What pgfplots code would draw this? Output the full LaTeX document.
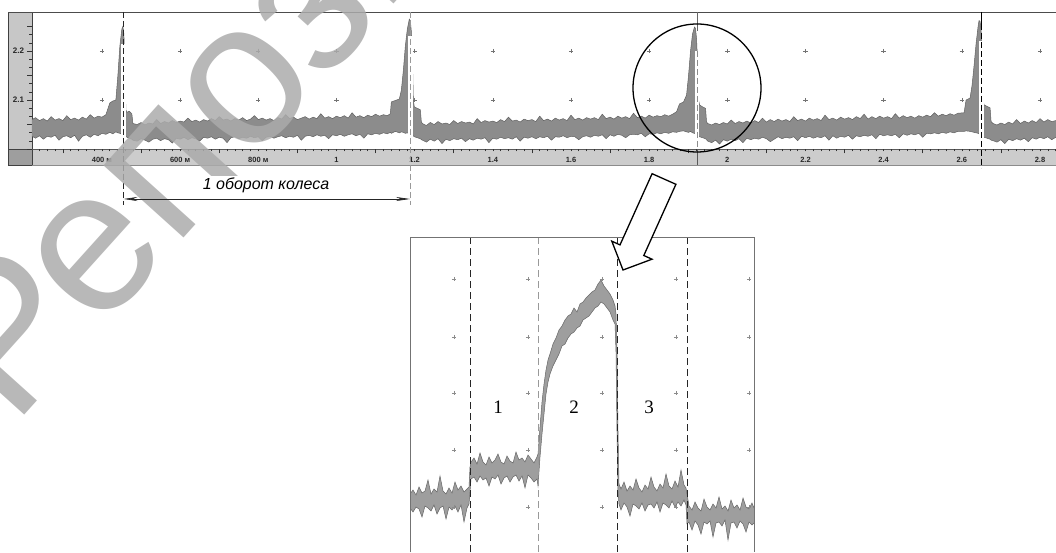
\documentclass[border=0pt]{standalone}
\usepackage{pgfplots}
\pgfplotsset{compat=1.18}
\usetikzlibrary{arrows.meta}
\usepackage{pgfplotstable}
\usepackage{fontspec}
\setmainfont{Liberation Serif}
\newfontfamily\sansf{Liberation Sans}

\pgfplotstableread{
x up lo
0.221 2.060 2.026
0.23 2.064 2.022
0.24 2.058 2.027
0.25 2.062 2.020
0.26 2.057 2.026
0.27 2.066 2.024
0.28 2.059 2.028
0.29 2.062 2.018
0.30 2.058 2.025
0.31 2.068 2.027
0.32 2.060 2.023
0.33 2.063 2.028
0.34 2.059 2.016
0.35 2.065 2.026
0.36 2.061 2.029
0.37 2.070 2.024
0.38 2.063 2.030
0.39 2.067 2.027
0.40 2.065 2.032
0.41 2.070 2.030
0.4202 2.094 2.034
0.4280 2.098 2.031
0.4356 2.100 2.035
0.4407 2.150 2.033
0.4458 2.210 2.032
0.4509 2.245 2.030
0.4535 2.250 2.031
0.4561 2.235 2.029
0.4586 2.170 2.028
0.4612 2.080 2.026
0.4637 2.075 2.024
0.4700 2.077 2.022
0.4765 2.072 2.020
0.4791 2.052 2.018
0.49 2.050 2.016
0.50 2.054 2.021
0.51 2.049 2.018
0.52 2.053 2.014
0.53 2.051 2.020
0.54 2.060 2.022
0.55 2.052 2.017
0.56 2.056 2.021
0.57 2.053 2.019
0.58 2.058 2.012
0.59 2.054 2.022
0.60 2.057 2.020
0.61 2.055 2.024
0.62 2.063 2.019
0.63 2.056 2.023
0.64 2.059 2.021
0.65 2.055 2.016
0.66 2.060 2.024
0.67 2.057 2.022
0.68 2.062 2.025
0.69 2.058 2.020
0.70 2.066 2.024
0.71 2.059 2.022
0.72 2.061 2.013
0.73 2.057 2.023
0.74 2.062 2.025
0.75 2.059 2.021
0.76 2.064 2.024
0.77 2.058 2.022
0.78 2.061 2.026
0.79 2.068 2.023
0.80 2.060 2.025
0.81 2.063 2.017
0.82 2.059 2.024
0.83 2.062 2.026
0.84 2.058 2.022
0.85 2.064 2.025
0.86 2.061 2.027
0.87 2.070 2.023
0.88 2.062 2.026
0.89 2.065 2.024
0.90 2.060 2.028
0.91 2.063 2.018
0.92 2.066 2.026
0.93 2.061 2.028
0.94 2.065 2.025
0.95 2.062 2.029
0.96 2.072 2.026
0.97 2.063 2.028
0.98 2.066 2.021
0.99 2.062 2.029
1.00 2.067 2.027
1.01 2.064 2.030
1.02 2.068 2.026
1.03 2.063 2.029
1.04 2.074 2.031
1.05 2.065 2.027
1.06 2.068 2.030
1.07 2.064 2.022
1.08 2.069 2.031
1.09 2.066 2.029
1.10 2.071 2.032
1.11 2.067 2.030
1.12 2.070 2.033
1.13 2.068 2.031
1.1378 2.072 2.034
1.1404 2.096 2.032
1.1506 2.099 2.036
1.1608 2.102 2.033
1.1660 2.120 2.035
1.1711 2.160 2.034
1.1762 2.210 2.032
1.1813 2.245 2.033
1.1864 2.265 2.031
1.1890 2.262 2.030
1.1916 2.240 2.029
1.1941 2.190 2.028
1.1967 2.100 2.027
1.1992 2.086 2.025
1.2069 2.083 2.023
1.2146 2.080 2.021
1.2172 2.055 2.019
1.22 2.052 2.018
1.23 2.048 2.014
1.24 2.054 2.020
1.25 2.050 2.016
1.26 2.056 2.021
1.27 2.051 2.011
1.28 2.053 2.020
1.29 2.050 2.017
1.30 2.058 2.021
1.31 2.052 2.019
1.32 2.056 2.022
1.33 2.053 2.015
1.34 2.055 2.021
1.35 2.051 2.018
1.36 2.062 2.022
1.37 2.054 2.020
1.38 2.058 2.023
1.39 2.055 2.013
1.40 2.057 2.022
1.41 2.054 2.020
1.42 2.060 2.024
1.43 2.056 2.021
1.44 2.065 2.023
1.45 2.057 2.020
1.46 2.059 2.025
1.47 2.055 2.016
1.48 2.061 2.024
1.49 2.058 2.022
1.50 2.060 2.025
1.51 2.056 2.021
1.52 2.067 2.025
1.53 2.058 2.023
1.54 2.061 2.026
1.55 2.057 2.018
1.56 2.063 2.025
1.57 2.059 2.024
1.58 2.062 2.027
1.59 2.058 2.023
1.60 2.069 2.026
1.61 2.060 2.025
1.62 2.063 2.019
1.63 2.059 2.025
1.64 2.064 2.027
1.65 2.061 2.024
1.66 2.064 2.028
1.67 2.060 2.026
1.68 2.071 2.029
1.69 2.062 2.021
1.70 2.065 2.029
1.71 2.061 2.026
1.72 2.067 2.030
1.73 2.063 2.028
1.74 2.066 2.023
1.75 2.062 2.029
1.76 2.073 2.030
1.77 2.064 2.029
1.78 2.067 2.032
1.79 2.063 2.025
1.80 2.069 2.031
1.81 2.065 2.030
1.82 2.068 2.033
1.83 2.066 2.031
1.84 2.070 2.034
1.85 2.067 2.032
1.86 2.071 2.035
1.8701 2.076 2.034
1.8777 2.092 2.036
1.8880 2.096 2.037
1.8957 2.110 2.035
1.9008 2.150 2.034
1.9059 2.200 2.036
1.9110 2.235 2.033
1.9161 2.249 2.032
1.9187 2.246 2.031
1.9213 2.225 2.030
1.9238 2.180 2.028
1.9264 2.100 2.027
1.9289 2.090 2.025
1.9366 2.086 2.023
1.9443 2.083 2.021
1.9469 2.055 2.019
1.95 2.052 2.016
1.96 2.049 2.013
1.97 2.053 2.018
1.98 2.050 2.010
1.99 2.054 2.019
2.00 2.051 2.016
2.01 2.059 2.020
2.02 2.052 2.017
2.03 2.056 2.021
2.04 2.053 2.013
2.05 2.057 2.022
2.06 2.053 2.019
2.07 2.058 2.022
2.08 2.054 2.020
2.09 2.063 2.024
2.10 2.055 2.021
2.11 2.060 2.015
2.12 2.056 2.020
2.13 2.061 2.025
2.14 2.057 2.021
2.15 2.060 2.024
2.16 2.056 2.022
2.17 2.066 2.025
2.18 2.058 2.017
2.19 2.061 2.026
2.20 2.057 2.023
2.21 2.063 2.026
2.22 2.059 2.022
2.23 2.062 2.025
2.24 2.058 2.023
2.25 2.069 2.027
2.26 2.060 2.018
2.27 2.063 2.027
2.28 2.059 2.022
2.29 2.065 2.026
2.30 2.061 2.024
2.31 2.064 2.028
2.32 2.060 2.020
2.33 2.066 2.027
2.34 2.062 2.025
2.35 2.071 2.028
2.36 2.061 2.026
2.37 2.066 2.029
2.38 2.062 2.021
2.39 2.067 2.030
2.40 2.063 2.027
2.41 2.066 2.029
2.42 2.062 2.027
2.43 2.072 2.030
2.44 2.063 2.023
2.45 2.068 2.031
2.46 2.064 2.028
2.47 2.067 2.031
2.48 2.063 2.029
2.49 2.068 2.032
2.50 2.065 2.024
2.51 2.069 2.032
2.52 2.066 2.031
2.53 2.074 2.033
2.54 2.067 2.031
2.55 2.071 2.034
2.56 2.068 2.032
2.57 2.072 2.035
2.58 2.069 2.033
2.59 2.073 2.036
2.6058 2.074 2.036
2.6109 2.100 2.037
2.6211 2.104 2.036
2.6262 2.130 2.035
2.6313 2.170 2.034
2.6365 2.215 2.033
2.6416 2.250 2.032
2.6441 2.262 2.031
2.6467 2.260 2.030
2.6493 2.245 2.029
2.6518 2.200 2.028
2.6544 2.100 2.026
2.6569 2.090 2.024
2.6646 2.087 2.022
2.6723 2.084 2.020
2.6749 2.056 2.018
2.68 2.052 2.017
2.69 2.049 2.014
2.70 2.053 2.019
2.71 2.050 2.011
2.72 2.055 2.020
2.73 2.051 2.017
2.74 2.060 2.021
2.75 2.052 2.018
2.76 2.057 2.022
2.77 2.053 2.015
2.78 2.058 2.023
2.79 2.054 2.020
2.80 2.062 2.024
2.81 2.055 2.021
2.82 2.060 2.025
2.83 2.056 2.019
2.841 2.058 2.024
}\toptab

\pgfplotstableread{
x up lo
0 58 44
3 62 40
6 57 45
9 65 43
12 59 35
15 61 46
18 72 44
21 58 41
24 63 47
27 60 38
30 76 44
33 61 46
36 58 33
39 64 45
42 59 42
45 70 46
48 62 40
51 66 47
54 60 30
57 63 44
59 65 48
60 85 60
61 90 73
64 94 75
67 88 70
70 99 76
73 90 72
76 87 74
79 95 66
82 89 75
85 92 73
88 98 77
91 90 68
94 88 74
97 96 76
100 91 70
103 89 75
106 100 77
109 92 71
112 94 76
115 90 64
118 97 77
121 93 74
124 89 70
127 95 73
128 98 66
130 125 95
132 150 118
134 168 138
136 182 158
138 192 170
140 198 178
143 208 186
146 214 192
149 222 198
152 226 206
155 232 208
158 236 214
161 238 218
164 244 220
167 240 224
170 248 226
173 250 232
176 254 234
179 257 236
182 260 240
185 262 244
188 268 246
191 272 250
194 266 248
197 262 244
200 258 240
203 252 232
205 246 228
206 238 200
207 200 120
208 120 60
209 68 48
211 63 42
214 70 49
217 61 45
220 66 36
223 62 48
226 73 46
229 64 43
232 60 49
235 67 41
238 63 47
241 75 48
244 65 44
247 61 50
250 68 40
253 64 49
256 78 47
259 66 44
262 63 51
265 71 45
268 65 50
271 82 46
274 67 52
276 64 47
277 58 28
279 46 30
282 42 22
285 50 31
288 44 27
291 41 18
294 53 30
297 45 28
300 42 31
303 48 15
306 44 29
309 55 30
312 43 26
315 46 32
318 41 12
321 52 29
324 44 30
327 47 24
330 42 31
333 54 28
336 45 20
339 43 30
342 49 27
344 44 29
}\bottab

\begin{document}
\begin{tikzpicture}[x=1pt,y=1pt]
\path[use as bounding box] (0,0) rectangle (1056,552);
% left strip and bottom bar of the top panel
\fill[black!22] (8,387) rectangle (32,540);
\fill[black!38] (8,387) rectangle (32,403);
\fill[black!20] (32,387) rectangle (1056,403);
\draw[black!75, line width=0.9pt] (8,387) rectangle (32,540);
\draw[black!75, line width=0.9pt] (8,403) -- (32,403);
\draw[black!65, line width=0.8pt] (32,403) -- (1056,403);
\draw[black!45, line width=0.6pt] (32,387) -- (1056,387);
\draw[black!70, line width=0.8pt] (8,540) -- (1056,540);

\begin{axis}[
  at={(32pt,403pt)}, anchor=south west,
  scale only axis, width=1024pt, height=137pt,
  xmin=0.221, xmax=2.841, ymin=2.0, ymax=2.2796,
  axis line style={draw=none},
  tick align=outside,
  xtick pos=bottom, ytick pos=left,
  xtick={0.3,0.5,0.7,0.9,1.1,1.3,1.5,1.7,1.9,2.1,2.3,2.5,2.7},
  xticklabels={},
  minor xtick={0.22,0.24,...,2.84},
  extra x ticks={0.4,0.6,0.8,1.0,1.2,1.4,1.6,1.8,2.0,2.2,2.4,2.6,2.8},
  extra x tick labels={400 м,600 м,800 м,1,1.2,1.4,1.6,1.8,2,2.2,2.4,2.6,2.8},
  extra x tick style={tick style={draw=none}},
  ytick={2.0,2.05,2.1,2.15,2.2,2.25},
  yticklabels={,,2.1,,2.2,},
  minor y tick num=2,
  major tick length=4.5pt, minor tick length=2.5pt,
  every tick/.style={black!80, line width=0.6pt},
  xticklabel style={font=\sansf\bfseries\fontsize{7.5}{8}\selectfont, text=black!85},
  yticklabel style={font=\sansf\bfseries\fontsize{8}{8}\selectfont, text=black!85},
]
\addplot[only marks, mark=+, mark size=2.2pt, mark options={black!55, line width=0.5pt}] coordinates {
(0.4,2.1) (0.6,2.1) (0.8,2.1) (1.0,2.1) (1.2,2.1) (1.4,2.1) (1.6,2.1) (1.8,2.1) (2.0,2.1) (2.2,2.1) (2.4,2.1) (2.6,2.1) (2.8,2.1)
(0.4,2.2) (0.6,2.2) (0.8,2.2) (1.0,2.2) (1.2,2.2) (1.4,2.2) (1.6,2.2) (1.8,2.2) (2.0,2.2) (2.2,2.2) (2.4,2.2) (2.6,2.2) (2.8,2.2)};
\addplot[draw=none, stack plots=y] table[x=x,y=lo]{\toptab};
\addplot[fill=black!45, draw=none, stack plots=y] table[x=x,y expr=\thisrow{up}-\thisrow{lo}]{\toptab} \closedcycle;
\addplot[black!62, line width=0.5pt] table[x=x,y=up]{\toptab};
\addplot[black!62, line width=0.5pt] table[x=x,y=lo]{\toptab};
\end{axis}

% white gaps around the cursors
\draw[white, line width=5pt] (123.5,403.5) -- (123.5,508);
\draw[white, line width=5pt] (410,403.5) -- (410,515.7);
\draw[white, line width=4pt] (697,403.5) -- (697,501);
\draw[white, line width=5pt] (981,403.5) -- (981,510.8);
% cursors
\draw[black!85, line width=0.9pt, dash pattern=on 6pt off 3pt] (123.5,540) -- (123.5,347);
\draw[black!40, line width=0.9pt, dash pattern=on 6pt off 3pt] (410,540) -- (410,347);
\draw[black!60, line width=0.9pt] (697,540) -- (697,520.6);
\draw[black!45, line width=0.9pt, dash pattern=on 6pt off 3pt] (697,501) -- (697,403);
\draw[black!65, line width=0.9pt] (697,403) -- (697,387);
\draw[black, line width=0.9pt] (981,540) -- (981,528);
\draw[black, line width=0.9pt, dash pattern=on 6pt off 3pt] (981,528) -- (981,384);

\begin{axis}[
  at={(410pt,0pt)}, anchor=south west,
  scale only axis, width=344pt, height=315pt,
  xmin=0, xmax=344, ymin=0, ymax=315,
  hide axis,
]
\addplot[only marks, mark=+, mark size=2.2pt, mark options={black!45, line width=0.5pt}] coordinates {
(44,273) (118,273) (192,273) (266,273) (339,273)
(44,215) (118,215) (192,215) (266,215) (339,215)
(44,159) (118,159) (192,159) (266,159) (339,159)
(44,102) (118,102) (192,102) (266,102) (339,102)
(44,45) (118,45) (192,45) (266,45) (339,45)};
\addplot[draw=none, stack plots=y] table[x=x,y=lo]{\bottab};
\addplot[fill=black!38, draw=none, stack plots=y] table[x=x,y expr=\thisrow{up}-\thisrow{lo}]{\bottab} \closedcycle;
\addplot[black!60, line width=0.5pt] table[x=x,y=up]{\bottab};
\addplot[black!60, line width=0.5pt] table[x=x,y=lo]{\bottab};
\end{axis}

\draw[black!85, line width=0.9pt, dash pattern=on 7pt off 4pt] (470,0) -- (470,315);
\draw[black!40, line width=0.9pt, dash pattern=on 7pt off 4pt] (538,0) -- (538,315);
\draw[black!85, line width=0.9pt, dash pattern=on 7pt off 4pt] (617,0) -- (617,315);
\draw[black!85, line width=0.9pt, dash pattern=on 7pt off 4pt] (687,0) -- (687,315);
\draw[black!55, line width=0.7pt] (410,0) -- (410,315) -- (754,315) -- (754,0);
\node[font=\fontsize{19}{19}\selectfont] at (498,145) {1};
\node[font=\fontsize{19}{19}\selectfont] at (574,145) {2};
\node[font=\fontsize{19}{19}\selectfont] at (649,145) {3};

% magnifier circle and block arrow
\draw[black, line width=1.3pt] (697,464) circle (64);
\filldraw[fill=white, draw=black, line width=1.3pt, line join=miter]
  (652.1,378.3) -- (675.9,367.7) -- (643.8,296.5) -- (652,292.8) -- (623,282) -- (611.8,310.8) -- (620.0,307.1) -- cycle;

% watermark
\node[rotate=48, anchor=base west, inner sep=0, font=\sansf\fontsize{204}{204}\selectfont, text=black!33, opacity=0.85] at (13,124) {Репозиторий};

% one revolution annotation (above the watermark)
\draw[black!85, line width=0.7pt, {Stealth[length=14pt,width=4pt]}-{Stealth[length=14pt,width=4pt]}] (123.5,353) -- (410,353);
\node[font=\sansf\itshape\fontsize{16}{16}\selectfont, fill=white, inner sep=1.5pt] at (266,367) {1 оборот колеса};
\end{tikzpicture}
\end{document}
